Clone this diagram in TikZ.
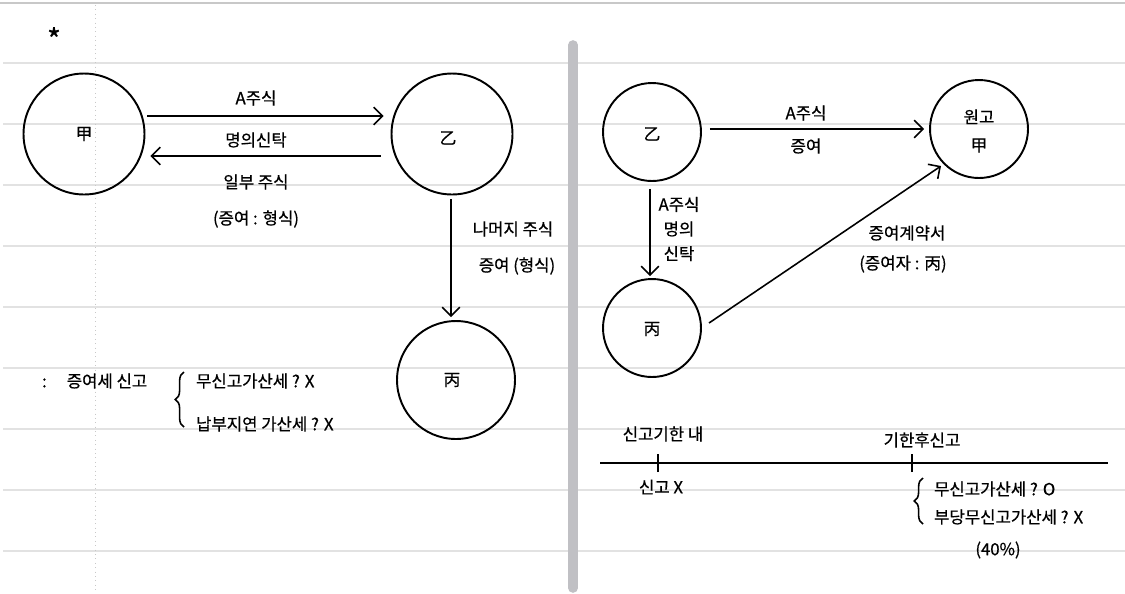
\documentclass[tikz,border=0pt]{standalone}
\usepackage{fontspec}
\setmainfont{Noto Sans CJK KR}[FakeBold=0.6]
\usetikzlibrary{arrows.meta,decorations.pathreplacing}
\definecolor{rule}{HTML}{E2E2E2}
\definecolor{topline}{HTML}{C8C8C8}
\definecolor{divider}{HTML}{C0C0C4}
\definecolor{dots}{HTML}{C8C8C8}
\tikzset{
  party/.style={circle,draw,line width=1.1pt,inner sep=0pt},
  bigparty/.style={party,minimum size=2.42cm},
  smallparty/.style={party,minimum size=1.96cm},
  lbl/.style={inner sep=1pt,font=\fontsize{9.5}{11}\selectfont},
  arr/.style={line width=0.9pt,-{Straight Barb[length=5pt,width=10pt,line width=0.9pt]}},
  bracestyle/.style={line width=0.9pt,decorate,decoration={brace,amplitude=5pt}},
}
\begin{document}
\begin{tikzpicture}[x=0.02cm,y=-0.02cm]
\useasboundingbox (0,0) rectangle (1125,593);
% notebook background
\fill[white] (0,0) rectangle (1125,593);
\draw[topline,line width=1.5pt] (0,3) -- (1125,3);
\foreach \yy in {63,124,185,246,307,368,429,490,551}
  \draw[rule,line width=0.8pt] (3,\yy) -- (1125,\yy);
\draw[dots,line width=0.5pt,dotted] (95,5) -- (95,593);
\draw[divider,line width=5.5pt,line cap=round] (573,45) -- (573,588);

\node[inner sep=0pt,font=\fontsize{17}{17}\selectfont] (star) at (54,39) {*};

% left diagram
\node[bigparty] (gap1) at (84,134) {};
\node[lbl] (gap1t) at (84,134) {甲};
\node[bigparty] (eul1) at (452,134) {};
\node[lbl] (eul1t) at (448,138) {乙};
\node[bigparty,minimum size=2.36cm] (byeong1) at (456,380) {};
\node[lbl] (byeong1t) at (452,380) {丙};

\draw[arr] ([shift={(2,-18)}]gap1.east) -- ([shift={(-7,-18)}]eul1.west);
\draw[arr] ([shift={(-10,22)}]eul1.west) -- ([shift={(5,22)}]gap1.east);
\node[lbl] (l1) at (256,98) {A주식};
\node[lbl] (l2) at (256,140) {명의신탁};
\node[lbl] (l3) at (256,182) {일부 주식};
\node[lbl] (l4) at (256,219) {(증여 : 형식)};

\draw[arr] ([shift={(-1,4)}]eul1.south) -- ([shift={(-5,-3)}]byeong1.north);
\node[lbl] (l5) at (513,229) {나머지 주식};
\node[lbl] (l6) at (517,266) {증여 (형식)};

\node[lbl,anchor=west] (l7) at (40,381) {:\hspace{1.2em}증여세 신고};
\draw[bracestyle] (184,427) -- (184,372);
\node[lbl,anchor=west] (l8) at (194,381) {무신고가산세 ? X};
\node[lbl,anchor=west] (l9) at (194,424) {납부지연 가산세 ? X};

% right diagram
\node[smallparty] (eul2) at (652,132) {};
\node[lbl] (eul2t) at (652,134) {乙};
\node[smallparty] (won) at (979,129) {};
\node[lbl,align=center] (wont) at (979,131) {원고\\[5pt]甲};
\node[smallparty] (byeong2) at (652,328) {};
\node[lbl] (byeong2t) at (652,329) {丙};

\draw[arr] ([shift={(8,-3)}]eul2.east) -- ([shift={(-5,0)}]won.west);
\node[lbl] (r1) at (806,113) {A주식};
\node[lbl] (r2) at (806,146) {증여};

\draw[arr] ([shift={(-2,7)}]eul2.south) -- ([shift={(-2,-2)}]byeong2.north);
\node[lbl,align=center] (r3) at (679,229) {A주식\\[3pt]명의\\[3pt]신탁};

\draw[arr] ([shift={(57,-5)}]byeong2.center) -- ([shift={(-38,37)}]won.center);
\node[lbl] (r4) at (907,233) {증여계약서};
\node[lbl] (r5) at (903,264) {(증여자 : 丙)};

% timeline
\coordinate (t0) at (600,463);
\coordinate (t1) at (1108,463);
\coordinate (tk1) at (658,463);
\coordinate (tk2) at (912,463);
\draw[line width=1.1pt] (t0) -- (t1);
\draw[line width=1.1pt] ([yshift=-0.18cm]tk1) -- ([yshift=0.18cm]tk1);
\draw[line width=1.1pt] ([yshift=-0.18cm]tk2) -- ([yshift=0.18cm]tk2);
\node[lbl] (s1) at (663,434) {신고기한 내};
\node[lbl] (s2) at (661,487) {신고 X};
\node[lbl] (s3) at (922,440) {기한후신고};
\draw[bracestyle] (923,524) -- (923,478);
\node[lbl,anchor=west] (s4) at (932,489) {무신고가산세 ? O};
\node[lbl,anchor=west] (s5) at (932,517) {부당무신고가산세 ? X};
\node[lbl] (s6) at (998,550) {(40\%)};
\end{tikzpicture}
\end{document}
